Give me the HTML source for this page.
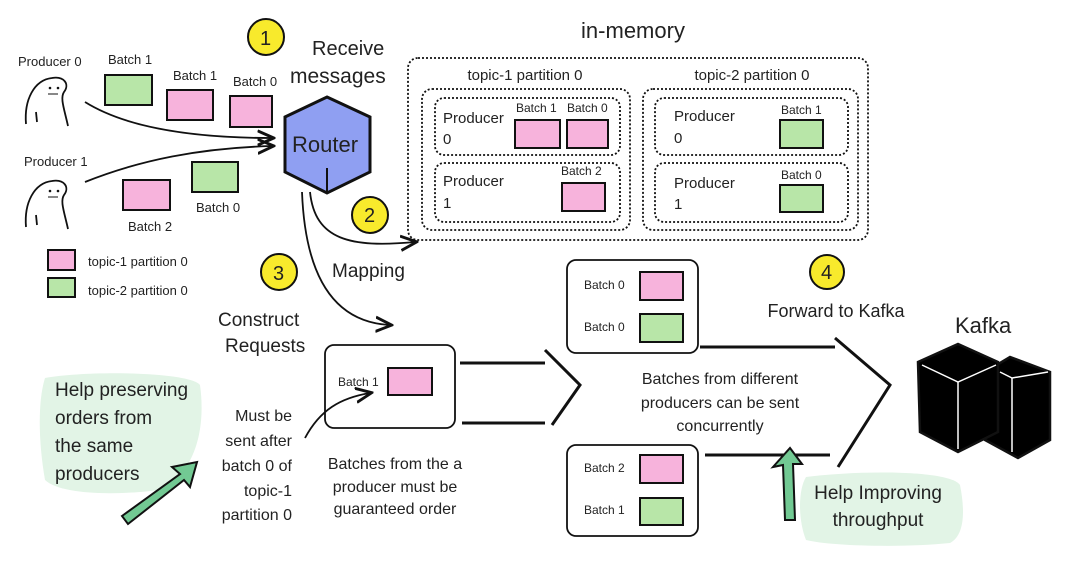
<!DOCTYPE html>
<html><head><meta charset="utf-8"><style>
html,body{margin:0;padding:0;background:#fff;width:1080px;height:563px;overflow:hidden}
svg text{font-family:"Liberation Sans",sans-serif;fill:#222}
</style></head><body>
<svg width="1080" height="563" viewBox="0 0 1080 563" xmlns="http://www.w3.org/2000/svg">
<defs><marker id="ah" markerWidth="10" markerHeight="10" refX="8" refY="5" orient="auto"><path d="M0,1 L9,5 L0,9" fill="none" stroke="#111" stroke-width="1.6"/></marker></defs>
<g stroke="#111" fill="none" stroke-width="1.8">
<path d="M26,124 C24,100 34,80 52,78 C64,76 70,84 64,92 C60,98 64,108 68,126"/>
<path d="M36,112 L37,122"/>
<path d="M26,227 C24,203 34,183 52,181 C64,179 70,187 64,195 C60,201 64,211 68,229"/>
<path d="M36,215 L37,225"/>
</g>
<circle cx="50" cy="88" r="1.3" fill="#111"/><circle cx="58" cy="88" r="1.3" fill="#111"/>
<circle cx="50" cy="191" r="1.3" fill="#111"/><circle cx="58" cy="191" r="1.3" fill="#111"/>
<path d="M48,94 L58,94" stroke="#111"/><path d="M48,197 L58,197" stroke="#111"/>
<g font-size="13">
<text x="18" y="66">Producer 0</text><text x="24" y="166">Producer 1</text>
<text x="108" y="64">Batch 1</text><text x="173" y="80">Batch 1</text><text x="233" y="86">Batch 0</text>
<text x="196" y="212">Batch 0</text><text x="128" y="231">Batch 2</text>
<text x="88" y="266">topic-1 partition 0</text><text x="88" y="295">topic-2 partition 0</text>
</g>
<g stroke="#111" stroke-width="2">
<rect x="105" y="75" width="47" height="30" fill="#b8e6a8"/>
<rect x="167" y="90" width="46" height="30" fill="#f7b3dc"/>
<rect x="230" y="96" width="42" height="31" fill="#f7b3dc"/>
<rect x="123" y="180" width="47" height="30" fill="#f7b3dc"/>
<rect x="192" y="162" width="46" height="30" fill="#b8e6a8"/>
<rect x="48" y="250" width="27" height="20" fill="#f7b3dc"/>
<rect x="48" y="278" width="27" height="19" fill="#b8e6a8"/>
</g>
<g stroke="#111" fill="none" stroke-width="1.8" marker-end="url(#ah)">
<path d="M85,102 C130,130 200,138 272,138"/>
<path d="M85,182 C140,160 200,148 272,146"/>
<path d="M310,192 C315,240 350,248 415,242"/>
<path d="M302,192 C305,270 330,322 390,325"/>
<path d="M305,438 C320,410 340,398 370,393"/>
</g>
<g fill="#f8ea2c" stroke="#111" stroke-width="2">
<circle cx="266" cy="37" r="18"/><circle cx="370" cy="215" r="18"/><circle cx="279" cy="272" r="18"/><circle cx="827" cy="272" r="17"/>
</g>
<g font-size="20"><text x="260" y="45">1</text><text x="364" y="222">2</text><text x="273" y="280">3</text><text x="821" y="279">4</text></g>
<text x="312" y="55" font-size="20">Receive</text><text x="290" y="83" font-size="21">messages</text>
<polygon points="327,97 370,117 370,172 327,193 285,172 285,117" fill="#8f9ff2" stroke="#111" stroke-width="3"/>
<path d="M327,168 L327,193" stroke="#111" stroke-width="2"/>
<text x="292" y="152" font-size="22">Router</text>
<text x="332" y="277" font-size="19">Mapping</text>
<text x="218" y="326" font-size="19">Construct</text><text x="225" y="352" font-size="19">Requests</text>
<text x="633" y="38" font-size="22" text-anchor="middle">in-memory</text>
<g fill="none" stroke="#111" stroke-width="1.8" stroke-dasharray="2,2">
<rect x="408" y="58" width="460" height="182" rx="10"/>
<rect x="422" y="89" width="208" height="141" rx="10"/>
<rect x="435" y="98" width="185" height="57" rx="9"/>
<rect x="435" y="163" width="185" height="59" rx="9"/>
<rect x="643" y="89" width="215" height="141" rx="10"/>
<rect x="655" y="98" width="193" height="57" rx="9"/>
<rect x="655" y="163" width="193" height="59" rx="9"/>
</g>
<g font-size="15"><text x="525" y="80" text-anchor="middle">topic-1 partition 0</text><text x="752" y="80" text-anchor="middle">topic-2 partition 0</text>
<text x="443" y="123">Producer</text><text x="443" y="144">0</text><text x="443" y="186">Producer</text><text x="443" y="208">1</text>
<text x="674" y="121">Producer</text><text x="674" y="143">0</text><text x="674" y="188">Producer</text><text x="674" y="209">1</text></g>
<g font-size="12"><text x="516" y="112">Batch 1</text><text x="567" y="112">Batch 0</text><text x="561" y="175">Batch 2</text><text x="781" y="114">Batch 1</text><text x="781" y="179">Batch 0</text>
<text x="338" y="386">Batch 1</text><text x="584" y="289">Batch 0</text><text x="584" y="331">Batch 0</text><text x="584" y="472">Batch 2</text><text x="584" y="514">Batch 1</text></g>
<g stroke="#111" stroke-width="2">
<rect x="515" y="120" width="45" height="28" fill="#f7b3dc"/><rect x="567" y="120" width="41" height="28" fill="#f7b3dc"/>
<rect x="562" y="183" width="43" height="28" fill="#f7b3dc"/>
<rect x="780" y="120" width="43" height="28" fill="#b8e6a8"/><rect x="780" y="185" width="43" height="27" fill="#b8e6a8"/>
<rect x="388" y="368" width="44" height="27" fill="#f7b3dc"/>
<rect x="640" y="272" width="43" height="28" fill="#f7b3dc"/><rect x="640" y="314" width="43" height="28" fill="#b8e6a8"/>
<rect x="640" y="455" width="43" height="28" fill="#f7b3dc"/><rect x="640" y="498" width="43" height="27" fill="#b8e6a8"/>
</g>
<g fill="none" stroke="#111" stroke-width="1.8">
<rect x="325" y="345" width="130" height="83" rx="9"/>
<rect x="567" y="260" width="131" height="93" rx="9"/>
<rect x="567" y="445" width="131" height="91" rx="9"/>
</g>
<g fill="none" stroke="#111" stroke-width="3">
<path d="M460,363 L545,363"/><path d="M462,423 L545,423"/>
<path d="M545,350 L580,385 L552,425"/>
<path d="M700,347 L835,347"/><path d="M705,455 L830,455"/>
<path d="M835,338 L890,385 L838,467"/>
</g>
<g font-size="16" text-anchor="middle"><text x="720" y="384">Batches from different</text><text x="720" y="408">producers can be sent</text><text x="720" y="431">concurrently</text>
<text x="395" y="469">Batches from the a</text><text x="395" y="492">producer must be</text><text x="395" y="514">guaranteed order</text></g>
<g font-size="16" text-anchor="end"><text x="292" y="421">Must be</text><text x="292" y="446">sent after</text><text x="292" y="471">batch 0 of</text><text x="292" y="496">topic-1</text><text x="292" y="520">partition 0</text></g>
<text x="836" y="317" font-size="18" text-anchor="middle">Forward to Kafka</text>
<text x="955" y="333" font-size="22">Kafka</text>
<g stroke="#111" stroke-width="2.5" fill="#000">
<polygon points="985,372 1010,357 1050,372 1050,440 1018,458 985,440"/>
<polygon points="918,362 958,344 998,362 998,432 958,452 920,432"/>
</g>
<g stroke="#fff" stroke-width="1.5" fill="none"><path d="M922,365 L958,382 L996,365"/><path d="M958,382 L958,449"/><path d="M1000,372 L1012,378 L1048,372"/><path d="M1012,378 L1012,452"/></g>
<path d="M45,378 C90,370 190,372 200,385 C205,420 200,470 160,490 C110,496 60,494 45,480 C38,440 38,400 45,378Z" fill="#e2f4e6"/>
<g font-size="19"><text x="55" y="396">Help preserving</text><text x="55" y="424">orders from</text><text x="55" y="452">the same</text><text x="55" y="480">producers</text></g>
<path d="M806,477 C860,470 950,470 960,485 C965,510 965,535 950,543 C900,548 830,546 806,540 C798,520 798,490 806,477Z" fill="#e2f4e6"/>
<g font-size="19"><text x="878" y="499" text-anchor="middle">Help Improving</text><text x="878" y="526" text-anchor="middle">throughput</text></g>
<g stroke="#111" stroke-width="2" fill="#72c993">
<polygon points="122,516 180,474 172,467 197,462 190,487 184,480 128,524"/>
<polygon points="785,520 783,465 773,467 790,448 802,464 793,464 795,520"/>
</g>
</svg>
</body></html>
